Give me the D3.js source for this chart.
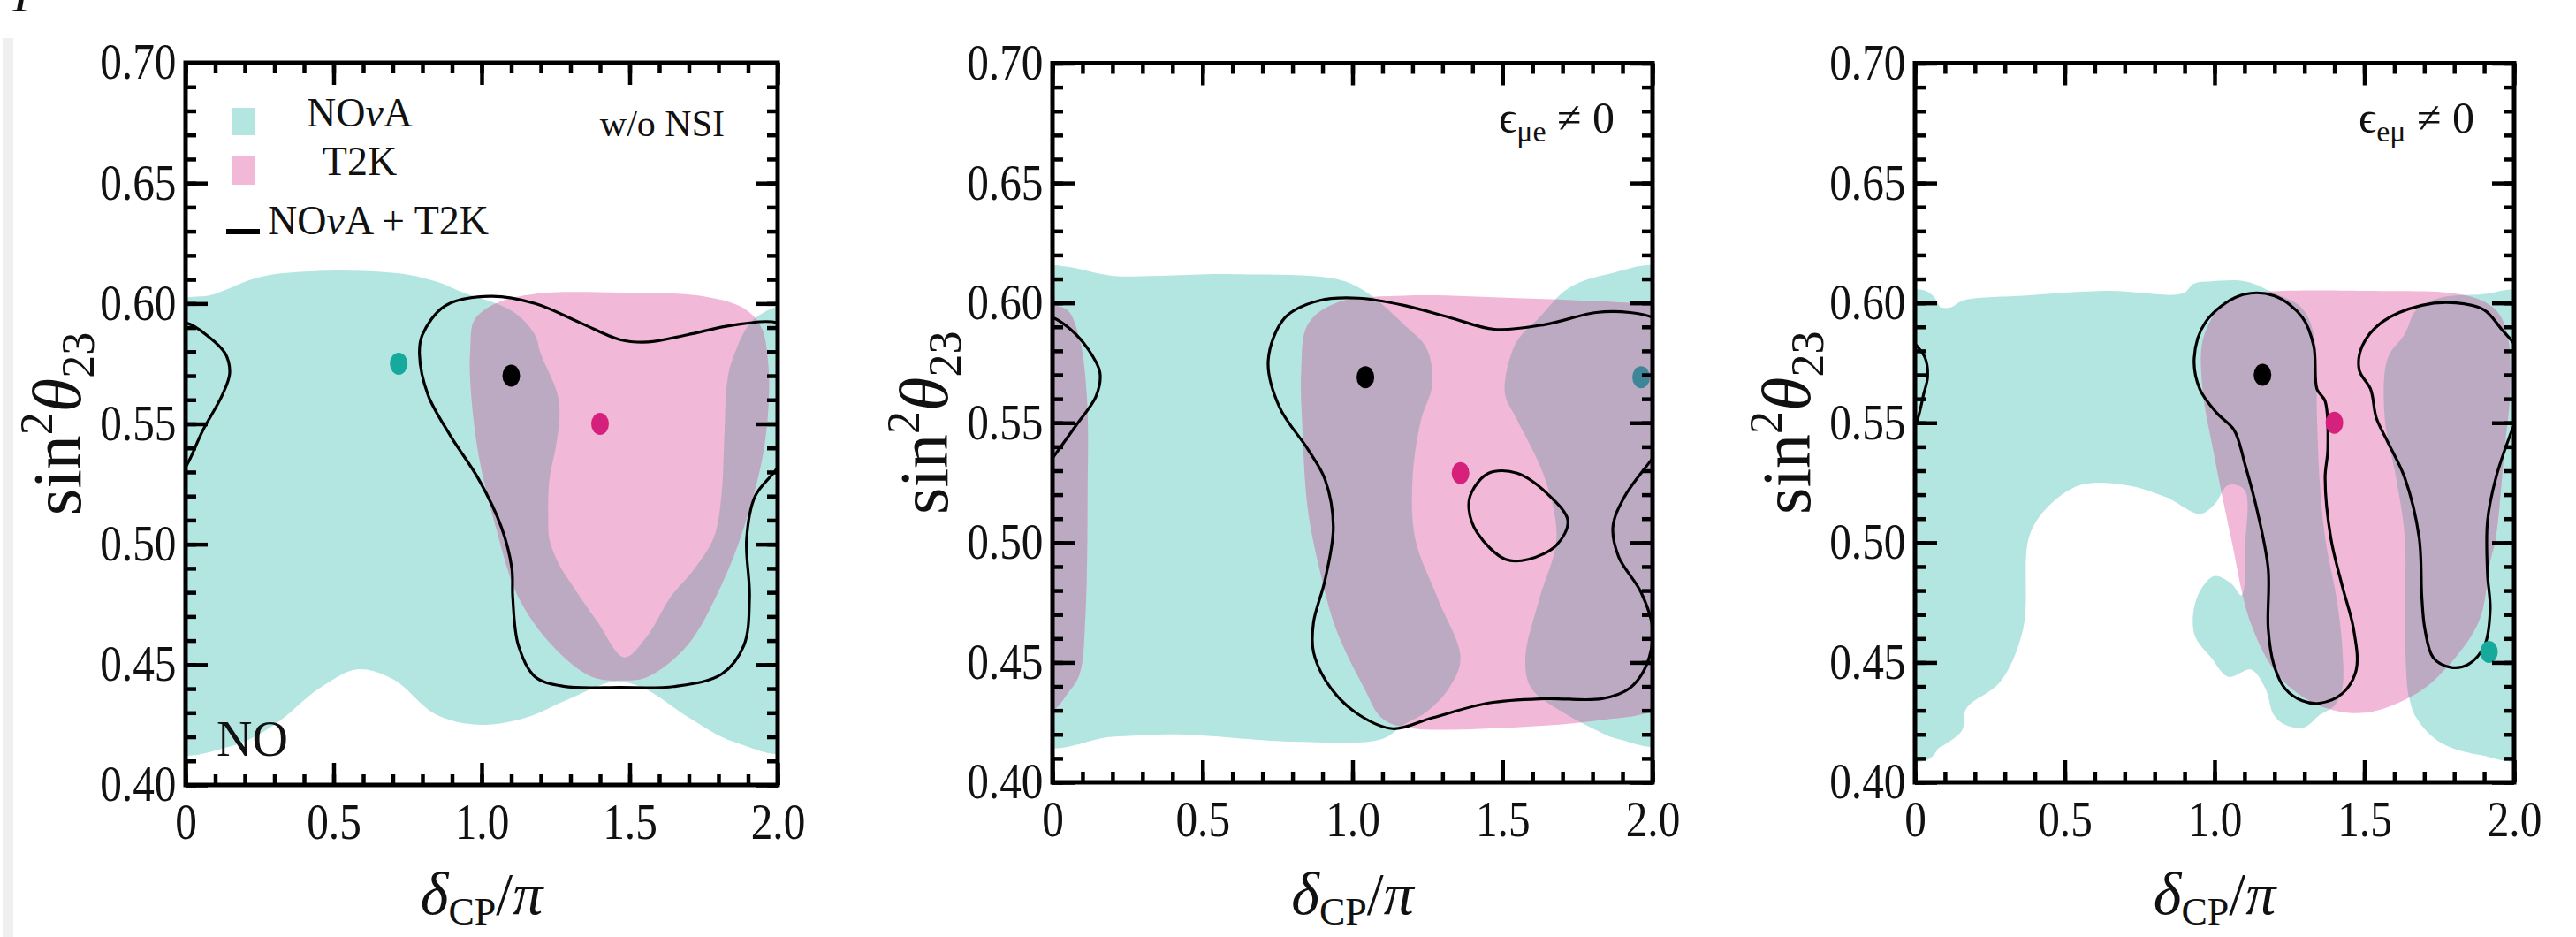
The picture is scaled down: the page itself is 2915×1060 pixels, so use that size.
<!DOCTYPE html>
<html>
<head>
<meta charset="utf-8">
<script src="https://cdn.jsdelivr.net/npm/d3@7"></script>
<style>
body { margin: 0; background: #fff; }
svg { display: block; }
text { font-family: "Liberation Serif", "DejaVu Serif", serif; fill: #111; }
</style>
</head>
<body>
<script>
// ---- data (delta_CP/pi , sin^2 theta23) ----
var xTicks = [0, 0.5, 1.0, 1.5, 2.0];
var xTickLabels = ["0", "0.5", "1.0", "1.5", "2.0"];
var yTicks = [0.40, 0.45, 0.50, 0.55, 0.60, 0.65, 0.70];
var yTickLabels = ["0.40", "0.45", "0.50", "0.55", "0.60", "0.65", "0.70"];

// panel 1 : w/o NSI
var nova1 = [[-0.06,0.415],[-0.06,0.598],[0.1,0.604],[0.25,0.611],[0.45,0.6135],[0.6,0.6135],[0.75,0.612],[0.85,0.609],
  [0.95,0.604],[1.05,0.600],[1.124,0.595],[1.18,0.587],[1.2,0.579],[1.257,0.562],[1.263,0.552],[1.25,0.54],[1.229,0.527],
  [1.225,0.51],[1.229,0.502],[1.26,0.492],[1.295,0.485],[1.39,0.468],[1.482,0.453],[1.56,0.462],[1.638,0.478],[1.72,0.490],
  [1.785,0.503],[1.81,0.52],[1.82,0.545],[1.829,0.567],[1.848,0.577],[1.924,0.594],[2.06,0.598],[2.06,0.415],[1.85,0.418],
  [1.70,0.428],[1.55,0.44],[1.45,0.443],[1.30,0.436],[1.15,0.428],[1.0,0.425],[0.85,0.429],[0.70,0.444],[0.58,0.448],
  [0.45,0.44],[0.30,0.425],[0.15,0.416]];
var t2k1 = [[0.962,0.582],[0.975,0.593],[1.048,0.600],[1.18,0.604],[1.467,0.6045],[1.75,0.603],[1.886,0.598],[1.945,0.590],
  [1.968,0.575],[1.97,0.560],[1.95,0.537],[1.886,0.507],[1.81,0.483],[1.695,0.458],[1.562,0.445],[1.482,0.4434],[1.371,0.445],
  [1.238,0.458],[1.124,0.478],[1.048,0.507],[0.99,0.537],[0.962,0.567]];
var comb1 = [[0.80,0.587],[0.876,0.599],[1.029,0.603],[1.18,0.600],[1.333,0.592],[1.467,0.585],[1.562,0.584],[1.695,0.587],
  [1.848,0.591],[2.0,0.592],[2.08,0.586],[2.135,0.579],[2.149,0.571],[2.124,0.562],[2.057,0.547],[2.0,0.532],[1.924,0.52],
  [1.895,0.502],[1.905,0.478],[1.886,0.458],[1.81,0.446],[1.657,0.441],[1.467,0.4405],[1.276,0.441],[1.18,0.445],[1.124,0.458],
  [1.105,0.478],[1.102,0.49],[1.067,0.507],[0.99,0.527],[0.895,0.545],[0.819,0.562],[0.79,0.579]];

// panel 2 : eps_mue != 0
var nova2a = [[-0.06,0.417],[-0.06,0.612],[0.23,0.611],[0.606,0.612],[0.945,0.61],[1.04,0.605],[1.171,0.591],[1.247,0.581],
  [1.266,0.566],[1.228,0.551],[1.2,0.5265],[1.209,0.5016],[1.284,0.4767],[1.36,0.4518],[1.322,0.4394],[1.247,0.4294],
  [1.17,0.424],[1.096,0.418],[0.795,0.417],[0.418,0.42],[0.2,0.419]];
var nova2b = [[1.51,0.569],[1.548,0.584],[1.623,0.594],[1.718,0.606],[1.85,0.612],[2.06,0.613],[2.06,0.417],[1.887,0.418],
  [1.793,0.423],[1.699,0.4294],[1.595,0.4394],[1.576,0.4518],[1.623,0.4767],[1.68,0.5016],[1.642,0.5265],[1.548,0.5514],
  [1.51,0.561]];
var t2k2 = [[0.851,0.591],[0.945,0.60],[1.171,0.603],[1.548,0.602],[1.925,0.60],[2.0,0.599],[2.05,0.597],[2.09,0.585],
  [2.115,0.56],[2.117,0.52],[2.11,0.47],[2.09,0.445],[2.05,0.437],[2.0,0.430],[1.83,0.426],[1.548,0.423],[1.171,0.423],
  [1.096,0.427],[1.04,0.439],[0.945,0.464],[0.89,0.489],[0.851,0.514],[0.832,0.551],[0.829,0.571]];
var comb2 = [[0.719,0.576],[0.776,0.594],[0.889,0.601],[1.02,0.602],[1.171,0.599],[1.322,0.594],[1.473,0.589],[1.642,0.591],
  [1.812,0.596],[1.925,0.596],[2.0,0.594],[2.06,0.589],[2.117,0.581],[2.158,0.571],[2.145,0.561],[2.079,0.549],[2.0,0.5352],
  [1.906,0.519],[1.868,0.5066],[1.887,0.4941],[1.962,0.4792],[2.0,0.4643],[1.981,0.4493],[1.925,0.4394],[1.831,0.4349],
  [1.642,0.4349],[1.454,0.4331],[1.266,0.4269],[1.134,0.4224],[1.021,0.4282],[0.927,0.4394],[0.87,0.4543],[0.87,0.4667],
  [0.908,0.4842],[0.936,0.5066],[0.908,0.5265],[0.851,0.539],[0.757,0.5564]];
var comb2b = [[1.397,0.521],[1.454,0.529],[1.548,0.529],[1.661,0.519],[1.718,0.509],[1.68,0.499],[1.586,0.493],[1.51,0.493],
  [1.416,0.504],[1.388,0.514]];

// panel 3 : eps_emu != 0
var nova3a = [[-0.06,0.4115],[-0.06,0.599],[0.114,0.598],[0.16,0.601],[0.361,0.603],[0.646,0.605],[0.894,0.604],[0.93,0.608],
  [0.989,0.609],[1.103,0.609],[1.2,0.604],[1.29,0.598],[1.331,0.587],[1.342,0.552],[1.35,0.527],[1.369,0.502],[1.407,0.477],
  [1.426,0.457],[1.426,0.439],[1.40,0.432],[1.35,0.428],[1.30,0.423],[1.236,0.424],[1.198,0.428],[1.17,0.439],[1.122,0.447],
  [1.046,0.444],[0.989,0.452],[0.932,0.462],[0.941,0.477],[0.998,0.486],[1.055,0.483],[1.09,0.478],[1.103,0.50],[1.10,0.522],
  [1.046,0.524],[1.0,0.516],[0.951,0.512],[0.837,0.519],[0.703,0.524],[0.551,0.524],[0.437,0.514],[0.38,0.502],[0.361,0.464],
  [0.285,0.442],[0.171,0.4307],[0.152,0.4207]];
var nova3b = [[1.673,0.597],[1.749,0.602],[1.882,0.6035],[2.06,0.603],[2.06,0.411],[1.882,0.4115],[1.749,0.417],[1.673,0.427],
  [1.65,0.435],[1.644,0.439],[1.635,0.464],[1.635,0.502],[1.606,0.527],[1.568,0.552],[1.578,0.577],[1.635,0.587]];
var t2k3 = [[1.008,0.597],[1.046,0.601],[1.122,0.604],[1.502,0.605],[1.844,0.603],[1.939,0.597],[1.977,0.587],[1.987,0.564],
  [1.968,0.539],[1.939,0.502],[1.92,0.492],[1.882,0.467],[1.768,0.447],[1.673,0.437],[1.502,0.429],[1.35,0.432],[1.217,0.444],
  [1.122,0.466],[1.055,0.502],[0.998,0.537],[0.96,0.564],[0.96,0.584]];
var comb3a = [[0.932,0.577],[0.97,0.592],[1.084,0.603],[1.198,0.603],[1.293,0.594],[1.331,0.582],[1.342,0.564],[1.369,0.559],
  [1.378,0.539],[1.369,0.527],[1.388,0.502],[1.426,0.482],[1.464,0.464],[1.473,0.447],[1.426,0.437],[1.35,0.433],[1.293,0.434],
  [1.236,0.439],[1.198,0.449],[1.179,0.464],[1.179,0.489],[1.141,0.514],[1.103,0.532],[1.065,0.547],[1.008,0.554],[0.951,0.564]];
var comb3b = [[1.483,0.572],[1.493,0.582],[1.559,0.592],[1.692,0.599],[1.806,0.600],[1.901,0.597],[1.958,0.589],[2.0,0.583],
  [2.034,0.577],[2.042,0.569],[2.029,0.562],[2.01,0.552],[1.987,0.545],[1.939,0.527],[1.911,0.509],[1.911,0.487],[1.92,0.472],
  [1.901,0.457],[1.844,0.449],[1.787,0.448],[1.73,0.452],[1.702,0.464],[1.692,0.477],[1.683,0.502],[1.635,0.527],[1.578,0.542],
  [1.54,0.552],[1.521,0.564]];

// best fit points per panel
var bestNova = [[0.72,0.575],[1.962,0.569],[1.916,0.4544]];
var bestT2k  = [[1.40,0.55],[1.36,0.529],[1.40,0.55]];
var bestComb = [[1.10,0.57],[1.043,0.569],[1.16,0.57]];

var novaSets = [[nova1],[nova2a,nova2b],[nova3a,nova3b]];
var t2kSets  = [[t2k1],[t2k2],[t2k3]];
var combSets = [[comb1],[comb2,comb2b],[comb3a,comb3b]];

// ---- layout ----
var frames = [
  {x0:210,  x1:880,  y0:71,   y1:888},
  {x0:1191, x1:1870, y0:71.5, y1:885},
  {x0:2167, x1:2845, y0:71.5, y1:885}
];
var cyan = "#b3e6e1", pink = "#f1b9d7", purple = "#bcaac3";
var magenta = "#d5207c";
var nsiColor = ["#17a99b", "#3d8597", "#17a99b"];

var svg = d3.select("body").append("svg").attr("width", 2915).attr("height", 1060);
var defs = svg.append("defs");

// page edge marks
svg.append("rect").attr("x", 3).attr("y", 43).attr("width", 12).attr("height", 1017).attr("fill", "#efefef");
svg.append("text").attr("x", 14).attr("y", 13).attr("font-size", 60).attr("font-style", "italic").text("I");

function panel(i) {
  var f = frames[i];
  var x = d3.scaleLinear().domain([0, 2]).range([f.x0, f.x1]);
  var y = d3.scaleLinear().domain([0.40, 0.70]).range([f.y1, f.y0]);
  var g = svg.append("g");

  var line = d3.line().x(d => x(d[0])).y(d => y(d[1])).curve(d3.curveCatmullRomClosed.alpha(0.5));
  // delta_CP is periodic: draw every shape also shifted by -2
  var both = sets => sets.flatMap(s => [s, s.map(d => [d[0] - 2, d[1]])]);

  defs.append("clipPath").attr("id", "plot" + i)
    .append("rect").attr("x", f.x0).attr("y", f.y0).attr("width", f.x1 - f.x0).attr("height", f.y1 - f.y0);
  defs.append("clipPath").attr("id", "nova" + i)
    .selectAll("path").data(both(novaSets[i])).join("path").attr("d", line);

  var plot = g.append("g").attr("clip-path", "url(#plot" + i + ")");
  plot.selectAll(".nova").data(both(novaSets[i])).join("path").attr("class", "nova")
    .attr("d", line).attr("fill", cyan);
  plot.selectAll(".t2k").data(both(t2kSets[i])).join("path").attr("class", "t2k")
    .attr("d", line).attr("fill", pink);
  plot.append("g").attr("clip-path", "url(#nova" + i + ")")
    .selectAll("path").data(both(t2kSets[i])).join("path")
    .attr("d", line).attr("fill", purple);
  plot.selectAll(".comb").data(both(combSets[i])).join("path").attr("class", "comb")
    .attr("d", line).attr("fill", "none").attr("stroke", "#000").attr("stroke-width", 3.2);

  // best fit points
  var pts = [[bestNova[i], nsiColor[i]], [bestT2k[i], magenta], [bestComb[i], "#000"]];
  g.selectAll(".bf").data(pts).join("ellipse").attr("class", "bf")
    .attr("cx", d => x(d[0][0])).attr("cy", d => y(d[0][1]))
    .attr("rx", 10).attr("ry", 12.5).attr("fill", d => d[1]);

  // axes: ticks inside on all four sides
  var yMinor = d3.range(40, 71).map(v => v / 100);
  var xMinor = d3.range(0, 21).map(v => v / 10);
  function styleAxis(sel) {
    sel.select(".domain").remove();
    sel.selectAll("line").attr("stroke", "#000").attr("stroke-width", 4.5);
    sel.attr("font-family", null).attr("font-size", 56);
  }
  g.append("g").attr("transform", `translate(${f.x0},0)`)
    .call(d3.axisLeft(y).tickValues(yMinor).tickSize(-12).tickFormat("")).call(styleAxis);
  g.append("g").attr("transform", `translate(${f.x1},0)`)
    .call(d3.axisRight(y).tickValues(yMinor).tickSize(-12).tickFormat("")).call(styleAxis);
  g.append("g").attr("transform", `translate(0,${f.y1})`)
    .call(d3.axisBottom(x).tickValues(xMinor).tickSize(-12).tickFormat("")).call(styleAxis);
  g.append("g").attr("transform", `translate(0,${f.y0})`)
    .call(d3.axisTop(x).tickValues(xMinor).tickSize(-12).tickFormat("")).call(styleAxis);
  g.append("g").attr("transform", `translate(${f.x1},0)`)
    .call(d3.axisRight(y).tickValues(yTicks).tickSize(-25).tickFormat("")).call(styleAxis);
  g.append("g").attr("transform", `translate(0,${f.y0})`)
    .call(d3.axisTop(x).tickValues(xTicks).tickSize(-25).tickFormat("")).call(styleAxis);

  var yl = g.append("g").attr("transform", `translate(${f.x0},0)`)
    .call(d3.axisLeft(y).tickValues(yTicks).tickSize(-25).tickPadding(12)
      .tickFormat((d, k) => yTickLabels[k])).call(styleAxis);
  yl.selectAll("text").attr("fill", "#111").attr("transform", "scale(0.88,1)");
  var xl = g.append("g").attr("transform", `translate(0,${f.y1})`)
    .call(d3.axisBottom(x).tickValues(xTicks).tickSize(-25).tickPadding(21)
      .tickFormat((d, k) => xTickLabels[k])).call(styleAxis);
  xl.selectAll("text").attr("fill", "#111").attr("transform", "scale(0.88,1)");

  // frame
  g.append("rect").attr("x", f.x0).attr("y", f.y0).attr("width", f.x1 - f.x0).attr("height", f.y1 - f.y0)
    .attr("fill", "none").attr("stroke", "#000").attr("stroke-width", 5);

  // y label
  var cy = (f.y0 + f.y1) / 2;
  var ylab = g.append("text").attr("transform", `translate(${f.x0 - 146},${cy}) rotate(-90)`)
    .attr("text-anchor", "middle").attr("dy", "0.35em").attr("font-size", 78);
  ylab.append("tspan").text("sin");
  ylab.append("tspan").attr("font-size", 52).attr("dy", -32).text("2");
  ylab.append("tspan").attr("font-style", "italic").attr("dy", 32).text("\u03b8");
  ylab.append("tspan").attr("font-size", 52).attr("dy", 15).text("23");

  // x label
  var xlab = g.append("text").attr("x", (f.x0 + f.x1) / 2).attr("y", 1034)
    .attr("text-anchor", "middle").attr("font-size", 68);
  xlab.append("tspan").attr("font-style", "italic").text("\u03b4");
  xlab.append("tspan").attr("font-size", 44).attr("dy", 12).text("CP");
  xlab.append("tspan").attr("dy", -12).text("/");
  xlab.append("tspan").attr("font-style", "italic").text("\u03c0");
  return g;
}

var panels = [0, 1, 2].map(panel);

// panel annotations
var g1 = panels[0];
g1.append("text").attr("x", 820).attr("y", 154).attr("text-anchor", "end").attr("font-size", 42).text("w/o NSI");
g1.append("text").attr("x", 245).attr("y", 855).attr("font-size", 56).text("NO");

function epsLabel(g, xr, sub) {
  var t = g.append("text").attr("x", xr).attr("y", 150).attr("text-anchor", "end").attr("font-size", 50);
  t.append("tspan").text("\u03f5");
  t.append("tspan").attr("font-size", 34).attr("dy", 10).text(sub);
  t.append("tspan").attr("dy", -10).text(" \u2260  0");
}
epsLabel(panels[1], 1827, "\u03bce");
epsLabel(panels[2], 2800, "e\u03bc");

// legend (panel 1)
function novaText(t) {
  t.append("tspan").text("NO");
  t.append("tspan").attr("font-style", "italic").text("\u03bd");
  t.append("tspan").text("A");
  return t;
}
var lg = g1.append("g");
lg.append("rect").attr("x", 262).attr("y", 122).attr("width", 26).attr("height", 31).attr("fill", cyan);
lg.append("rect").attr("x", 262).attr("y", 177).attr("width", 26).attr("height", 32).attr("fill", pink);
lg.append("line").attr("x1", 256).attr("x2", 294).attr("y1", 262).attr("y2", 262).attr("stroke", "#000").attr("stroke-width", 6);
novaText(lg.append("text").attr("x", 407).attr("y", 143).attr("text-anchor", "middle").attr("font-size", 46));
lg.append("text").attr("x", 407).attr("y", 198).attr("text-anchor", "middle").attr("font-size", 46).text("T2K");
novaText(lg.append("text").attr("x", 303).attr("y", 265).attr("font-size", 46)).append("tspan").text(" + T2K");
</script>
</body>
</html>
